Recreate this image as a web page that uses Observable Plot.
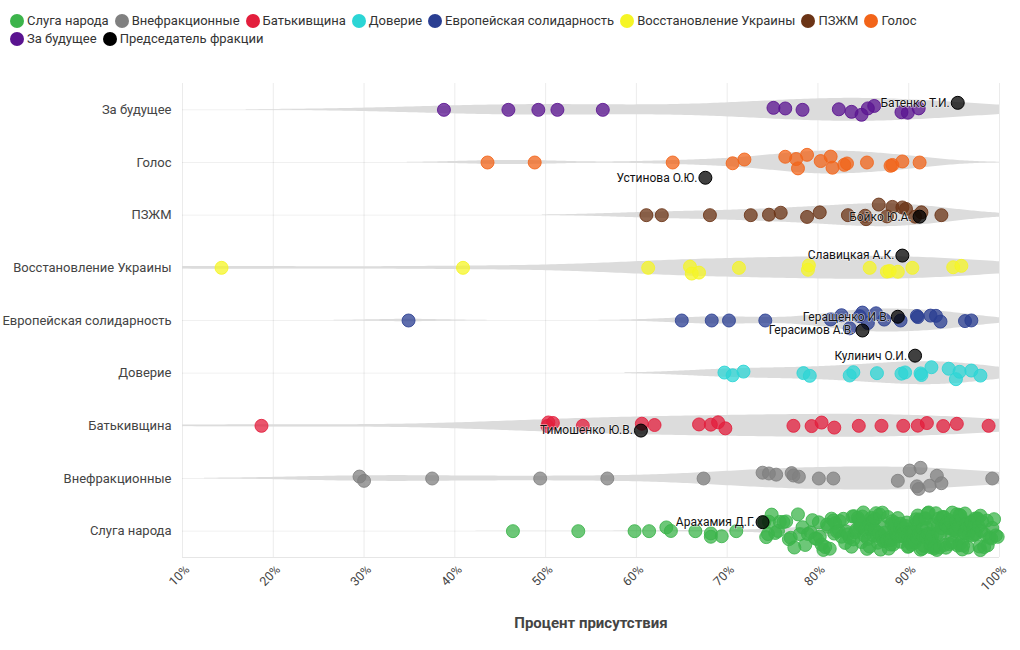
<!DOCTYPE html>
<html><head><meta charset="utf-8">
<script src="https://cdn.jsdelivr.net/npm/d3@7"></script>
<script src="https://cdn.jsdelivr.net/npm/@observablehq/plot@0.6"></script>
<style>
body{margin:0;background:#fff;font-family:Roboto,"Noto Sans",sans-serif;}
#legend{height:50px;padding:12px 0 0 10px;box-sizing:border-box;width:1010px;display:flex;flex-wrap:wrap;font-size:13px;color:#333;line-height:18px;align-content:flex-start;}
.item{display:flex;align-items:center;margin-right:6px;}
.sw{width:14px;height:14px;border-radius:50%;margin-right:3px;}
.br{flex-basis:100%;height:0;}
#chart svg{display:block;}
</style></head><body>
<div id="legend"></div><div id="chart"></div>
<script>
const parties = ["Слуга народа","Внефракционные","Батькивщина","Доверие","Европейская солидарность","Восстановление Украины","ПЗЖМ","Голос","За будущее"];
const partyColors = ["#3cb44b","#808080","#e31e3c","#2cd5d5","#2a3e92","#f5f525","#6b3416","#f26419","#5a1390"];
const chairLegendLabel = "Председатель фракции";
const chairColor = "#000000";

// attendance, %
const sluga = [46.4,53.6,59.8,61.4,63.3,63.8,66.5,68.2,68.2,69.4,71.0,
  74.1,74.3,74.5,74.6,74.9,75.3,75.6,75.8,76.2,76.5,76.8,77.0,
  77.4,77.8,78.0,78.3,78.6,78.9,79.2,79.4,79.7,79.9,
  80.1,80.2,80.4,80.6,80.8,81.0,81.1,81.3,81.5,81.7,81.8,81.9,
  82.1,82.3,82.4,82.6,82.8,83.0,83.1,83.3,83.5,83.7,83.8,83.9,
  84.0,84.1,84.2,84.4,84.5,84.6,84.7,84.8,84.9,85.0,85.1,85.2,85.4,85.5,85.6,85.7,85.8,85.9,
  86.0,86.1,86.1,86.2,86.3,86.4,86.5,86.6,86.7,86.8,86.9,87.0,87.1,87.2,87.3,87.4,87.5,87.6,87.7,87.8,87.9,87.9,
  88.0,88.1,88.1,88.2,88.3,88.4,88.5,88.5,88.6,88.7,88.8,88.9,89.0,89.1,89.1,89.2,89.3,89.4,89.5,89.6,89.7,89.8,89.9,89.9,
  90.0,90.1,90.1,90.2,90.3,90.3,90.4,90.5,90.6,90.7,90.7,90.8,90.9,91.0,91.1,91.1,91.2,91.3,91.4,91.5,91.5,91.6,91.7,91.8,91.9,91.9,
  92.0,92.1,92.1,92.2,92.3,92.4,92.4,92.5,92.6,92.7,92.8,92.8,92.9,93.0,93.1,93.2,93.2,93.3,93.4,93.5,93.6,93.6,93.7,93.8,93.9,93.9,
  94.0,94.1,94.1,94.2,94.3,94.4,94.4,94.5,94.6,94.7,94.8,94.8,94.9,95.0,95.1,95.2,95.2,95.3,95.4,95.5,95.6,95.6,95.7,95.8,95.9,95.9,
  96.0,96.1,96.2,96.2,96.3,96.4,96.5,96.6,96.7,96.7,96.8,96.9,97.0,97.1,97.2,97.3,97.3,97.4,97.5,97.6,97.7,97.8,97.9,97.9,
  98.0,98.1,98.3,98.4,98.6,98.7,98.9,99.1,99.2,99.4,99.6,99.8];
const vnefr = [29.5,30.0,37.5,49.4,56.8,67.4,73.9,74.6,75.4,77.3,77.9,77.1,80.1,81.7,88.8,90.1,91.3,90.9,91.1,92.3,93.1,93.6,99.2];
const batk = [18.7,50.2,50.8,50.3,54.1,60.6,62.0,66.9,68.2,69.0,69.8,77.3,79.3,80.4,81.8,84.5,87.0,89.4,91.0,92.0,93.8,95.3,98.8];
const dov = [69.7,70.6,71.8,78.4,79.1,83.5,83.9,86.5,89.2,89.6,91.3,91.4,92.5,94.4,95.2,95.6,96.9,97.9];
const es = [34.9,65.0,68.3,70.2,74.2,81.4,82.6,83.5,84.9,85.5,84.6,86.4,87.3,89.1,90.9,91.0,93.0,93.5,92.4,96.2,96.9];
const vost = [14.3,40.9,61.3,65.9,66.1,66.9,71.3,78.9,79.0,85.7,87.6,87.9,88.8,90.4,94.9,95.8];
const pzhm = [61.1,62.8,68.1,72.6,74.6,75.9,78.8,80.2,83.3,85.2,85.3,86.7,87.6,88.2,89.3,89.7,90.7,91.4,93.6];
const golos = [43.6,48.8,64.0,70.6,71.9,76.4,77.8,77.6,78.8,80.3,81.4,81.6,82.9,83.2,85.4,88.0,88.2,89.3,91.2];
const zabud = [38.8,45.9,49.2,51.3,56.3,75.1,76.4,78.3,82.3,83.7,84.8,85.5,86.2,89.2,89.9,91.1];

const chairNames = ["Арахамия Д.Г.","Тимошенко Ю.В.","Кулинич О.И.","Геращенко И.В.","Герасимов А.В.","Славицкая А.К.","Бойко Ю.А.","Устинова О.Ю.","Батенко Т.И."];
const chairParties = ["Слуга народа","Батькивщина","Доверие","Европейская солидарность","Европейская солидарность","Восстановление Украины","ПЗЖМ","Голос","За будущее"];
const chairValues = [73.9,60.5,90.7,88.8,84.9,89.3,91.2,67.6,95.4];

const xTicks = [10,20,30,40,50,60,70,80,90,100];
const xTitle = "Процент присутствия";

// legend
const legend = document.getElementById("legend");
const legendItems = parties.map((p,i)=>({label:p,color:partyColors[i]})).concat([{label:chairLegendLabel,color:chairColor}]);
legendItems.forEach((it)=>{
  if (it.label === "За будущее") { const b=document.createElement("div"); b.className="br"; legend.appendChild(b); }
  const d=document.createElement("div"); d.className="item";
  d.innerHTML=`<span class="sw" style="background:${it.color}"></span><span>${it.label}</span>`;
  legend.appendChild(d);
});

// layout
const W=1020, H=600, mT=33, mB=93, mL=182, mR=21;
const PX=(H-mT-mB)/parties.length;
const hw=11.5/PX;

// deterministic jitter in [-1, 1] (layout only, not data)
const jit=(i,g)=>{const t=Math.sin(i*127.1+g*311.7)*43758.5453;return (t-Math.floor(t))*2-1;};

const groups=[sluga,vnefr,batk,dov,es,vost,pzhm,golos,zabud];
function bandwidth(s){
  const n=s.length, sd=d3.deviation(s);
  const iqr=(d3.quantile(s,0.75)-d3.quantile(s,0.25))/1.349;
  const sp=Math.min(sd, iqr>0?iqr:sd);
  return 1.059*sp*Math.pow(n,-0.2);
}
const points=[], violin=[];
groups.forEach((vals,gi)=>{
  const s=vals.slice().sort(d3.ascending);
  const bw=bandwidth(s);
  const f=x=>d3.sum(s,v=>Math.exp(-0.5*((x-v)/bw)**2));
  const lo=Math.max(0,s[0]-2*bw), hi=s[s.length-1]+2*bw;
  const xs=d3.range(241).map(k=>lo+(hi-lo)*k/240);
  const ds=xs.map(f), dmax=d3.max(ds);
  xs.forEach((x,k)=>violin.push({party:gi,x,y1:gi-hw*ds[k]/dmax,y2:gi+hw*ds[k]/dmax}));
  const A=(gi===0?19:12)/PX;
  s.forEach((v,i)=>{
    const nLocal=s.filter(w=>Math.abs(w-v)<=1.5).length-1;
    const factor=Math.min(1,nLocal/4);
    points.push({v,y:gi+A*factor*jit(i,gi),color:partyColors[gi]});
  });
});
const chairs=chairNames.map((n,j)=>{
  const u=((j*0.618034+0.75)%1)*2-1;
  return {name:n,v:chairValues[j],y:parties.indexOf(chairParties[j])+u*18/PX};
});

const chart=Plot.plot({
  width:W,height:H,marginTop:mT,marginBottom:mB,marginLeft:mL,marginRight:mR,
  style:{fontFamily:"Roboto, 'Noto Sans', sans-serif",fontSize:"13px",color:"#444",background:"#fff"},
  x:{domain:[10,100]},
  y:{domain:[-0.5,parties.length-0.5]},
  color:{type:"identity"},
  marks:[
    Plot.gridX(xTicks,{stroke:"#000",strokeOpacity:0.08}),
    Plot.gridY(d3.range(parties.length),{stroke:"#000",strokeOpacity:0.06}),
    Plot.areaY(violin,{x:"x",y1:"y1",y2:"y2",z:"party",fill:"#dcdcdc",clip:true}),
    Plot.ruleY([-0.5],{stroke:"#e6e6e6"}),
    Plot.dot(points,{x:"v",y:"y",r:6.5,fill:"color",fillOpacity:0.75,stroke:"color",strokeOpacity:0.85,strokeWidth:1}),
    Plot.dot(chairs,{x:"v",y:"y",r:6.5,fill:chairColor,fillOpacity:0.75,stroke:chairColor,strokeWidth:1}),
    Plot.text(chairs,{x:"v",y:"y",text:"name",textAnchor:"end",dx:-8,fontSize:12,fill:"#111",stroke:"#fff",strokeWidth:1.2,strokeOpacity:0.7}),
    Plot.axisY(d3.range(parties.length),{tickFormat:i=>parties[i],tickSize:0,tickPadding:11,fontSize:13,label:null}),
    Plot.axisX(xTicks,{tickFormat:d=>d+"%",tickRotate:-45,tickSize:0,tickPadding:10,dx:5,fontSize:12.5,label:null}),
    Plot.text([xTitle],{frameAnchor:"bottom",dy:70,text:d=>d,fontSize:15,fontWeight:"bold",fill:"#444"})
  ]
});
document.getElementById("chart").appendChild(chart);
</script>
</body></html>
